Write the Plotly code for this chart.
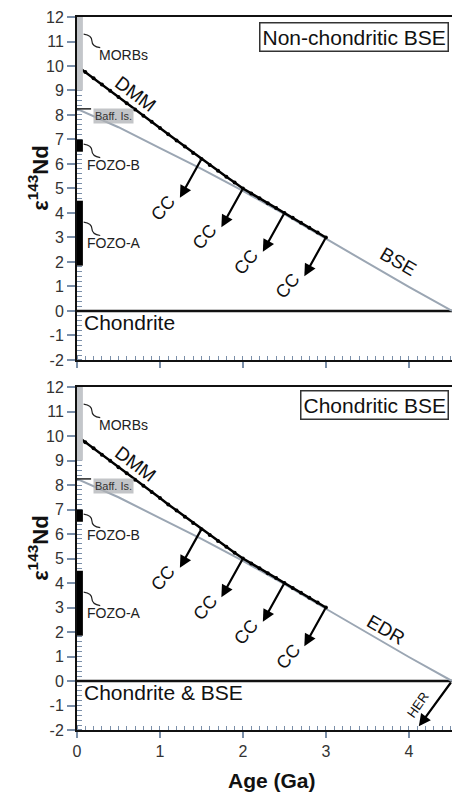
import plotly.graph_objects as go

# ---- data -------------------------------------------------------------
# Depleted MORB mantle evolution (epsilon 143Nd vs age, Ga)
AGE_DMM = [0.0, 0.1, 0.2, 0.3, 0.4, 0.5, 0.6, 0.7, 0.8, 0.9, 1.0,
           1.1, 1.2, 1.3, 1.4, 1.5, 1.6, 1.7, 1.8, 1.9, 2.0,
           2.1, 2.2, 2.3, 2.4, 2.5, 2.6, 2.7, 2.8, 2.9, 3.0]
EPS_DMM = [10.0, 9.75, 9.5, 9.24, 8.99, 8.73, 8.48, 8.22, 7.97, 7.72, 7.47,
           7.21, 6.96, 6.71, 6.45, 6.2, 5.96, 5.72, 5.48, 5.24, 5.0,
           4.8, 4.6, 4.4, 4.2, 4.0, 3.8, 3.6, 3.4, 3.2, 3.0]

# BSE / EDR evolution line
AGE_BSE = [0.0, 0.5, 1.0, 1.5, 2.0, 2.5, 3.0, 3.5, 4.0, 4.52]
EPS_BSE = [8.25, 7.5, 6.65, 5.8, 4.9, 3.95, 2.95, 1.97, 0.98, 0.0]

# continental crust extraction ages (arrows leave the DMM curve here)
CC_AGES = [1.5, 2.0, 2.5, 3.0]

CHONDRITE = 0.0

# present-day reservoir ranges drawn along the age = 0 axis
RES_NAMES = ["MORBs", "FOZO-B", "FOZO-A"]
RES_LOW = [9.0, 6.5, 1.85]
RES_HIGH = [12.0, 7.0, 4.5]
RES_LABEL_EPS = [10.45, 5.96, 2.78]
BAFFIN_EPS = 8.25

PANEL_BOX = ["Non-chondritic BSE", "Chondritic BSE"]
PANEL_LINE_LABEL = ["BSE", "EDR"]
PANEL_BASE_LABEL = ["Chondrite", "Chondrite & BSE"]

X_MAX = 4.52
Y_RANGE = [-2, 12]
Y_TICKS = list(range(-2, 13))
X_TICKS = [0, 1, 2, 3, 4]

# ---- styling ----------------------------------------------------------
FONT = "Liberation Sans, Arial, sans-serif"
TICK_COL = "#7b8fa9"
GREY_LINE = "#9ba6b3"

fig = go.Figure()
annotations = []
shapes = []


def dmm_at(age):
    return EPS_DMM[AGE_DMM.index(age)]


for i in range(2):
    xa = "x" if i == 0 else "x2"
    ya = "y" if i == 0 else "y2"

    # chondrite reference line
    fig.add_trace(go.Scatter(x=[0, X_MAX], y=[CHONDRITE, CHONDRITE], mode="lines",
                             line=dict(color="#111", width=2.5), xaxis=xa, yaxis=ya,
                             hoverinfo="skip"))
    # BSE / EDR line
    fig.add_trace(go.Scatter(x=AGE_BSE, y=EPS_BSE, mode="lines",
                             line=dict(color=GREY_LINE, width=2), xaxis=xa, yaxis=ya,
                             hoverinfo="skip"))
    # DMM curve
    fig.add_trace(go.Scatter(x=AGE_DMM, y=EPS_DMM, mode="lines+markers",
                             line=dict(color="#000", width=2.5),
                             marker=dict(color="#000", size=4), xaxis=xa, yaxis=ya,
                             hoverinfo="skip"))
    # reservoir bars on the present-day axis
    for name, lo, hi in zip(RES_NAMES, RES_LOW, RES_HIGH):
        col = "#c3c6ca" if name == "MORBs" else "#000"
        fig.add_trace(go.Scatter(x=[0.035, 0.035], y=[lo, hi], mode="lines",
                                 line=dict(color=col, width=6), xaxis=xa, yaxis=ya,
                                 hoverinfo="skip"))
    # Baffin Island marker
    fig.add_trace(go.Scatter(x=[0, 0.17], y=[BAFFIN_EPS, BAFFIN_EPS], mode="lines",
                             line=dict(color="#222", width=1.5), xaxis=xa, yaxis=ya,
                             hoverinfo="skip"))

    # crust extraction arrows + labels
    for age in CC_AGES:
        sx, sy = age, dmm_at(age)
        tx, ty = sx - 0.26, sy - 1.58
        annotations.append(dict(x=tx, y=ty, ax=sx, ay=sy, xref=xa, yref=ya,
                                axref=xa, ayref=ya, text="", showarrow=True,
                                arrowhead=2, arrowsize=1.1, arrowwidth=2.2,
                                arrowcolor="#000"))
        annotations.append(dict(x=tx - 0.2, y=ty - 0.42, xref=xa, yref=ya, text="CC",
                                showarrow=False, textangle=-50,
                                font=dict(family=FONT, size=18, color="#111")))

    # curve labels
    annotations.append(dict(x=0.70, y=8.88, xref=xa, yref=ya, text="DMM",
                            showarrow=False, textangle=37,
                            font=dict(family=FONT, size=19, color="#111")))
    annotations.append(dict(x=3.87 if i == 0 else 3.72, y=2.0 if i == 0 else 2.12,
                            xref=xa, yref=ya, text=PANEL_LINE_LABEL[i],
                            showarrow=False, textangle=30,
                            font=dict(family=FONT, size=19, color="#111")))
    annotations.append(dict(x=0.06, y=-0.47, xref=xa, yref=ya, xanchor="left",
                            text=PANEL_BASE_LABEL[i], showarrow=False,
                            font=dict(family=FONT, size=21, color="#111")))

    # reservoir labels with curly leaders
    for name, ly in zip(RES_NAMES, RES_LABEL_EPS):
        lx = 0.24 if name == "MORBs" else 0.1
        annotations.append(dict(x=lx, y=ly, xref=xa, yref=ya, xanchor="left",
                                text=name, showarrow=False,
                                font=dict(family=FONT, size=14, color="#222")))
        x0, y0 = 0.08, ly + 0.85
        x1, y1 = 0.28, ly + 0.3
        xm, ymid = 0.18, (y0 + y1) / 2
        shapes.append(dict(type="path", xref=xa, yref=ya,
                           path=f"M {x0},{y0} Q {x0 + 0.1},{y0 - 0.05} {xm},{ymid} "
                                f"T {x1},{y1}",
                           line=dict(color="#222", width=1.2)))
    annotations.append(dict(x=0.19, y=BAFFIN_EPS - 0.3, xref=xa, yref=ya,
                            xanchor="left", text="Baff. Is.", showarrow=False,
                            bgcolor="rgba(175,178,182,0.75)", borderpad=1,
                            font=dict(family=FONT, size=11, color="#333")))

    # panel title box
    annotations.append(dict(x=0.992, y=0.986 if i == 0 else 0.99,
                            xref=f"{xa} domain", yref=f"{ya} domain",
                            xanchor="right", yanchor="top", text=PANEL_BOX[i],
                            showarrow=False, bordercolor="#333", borderwidth=1.5,
                            borderpad=2, bgcolor="white",
                            font=dict(family=FONT, size=21, color="#111")))

    # y axis title
    annotations.append(dict(x=-0.145, y=0.53, xref="paper", yref=f"{ya} domain",
                            text="<b>ε<sup>143</sup>Nd</b>", showarrow=False,
                            textangle=-90,
                            font=dict(family=FONT, size=22, color="#111")))

# hidden-earth reservoir arrow (chondritic BSE case)
her_sx, her_sy = AGE_BSE[-1], EPS_BSE[-1]
annotations.append(dict(x=her_sx - 0.4, y=her_sy - 1.85, ax=her_sx, ay=her_sy,
                        xref="x2", yref="y2", axref="x2", ayref="y2", text="",
                        showarrow=True, arrowhead=2, arrowsize=1.1, arrowwidth=2.2,
                        arrowcolor="#000"))
annotations.append(dict(x=4.1, y=-0.98, xref="x2", yref="y2", text="HER",
                        showarrow=False, textangle=-55,
                        font=dict(family=FONT, size=13, color="#111")))

# x axis title
annotations.append(dict(x=0.52, y=-0.071, xref="x2 domain", yref="paper",
                        yanchor="middle", text="<b>Age (Ga)</b>", showarrow=False,
                        font=dict(family=FONT, size=21, color="#111")))


def x_axis(anchor, labels):
    return dict(domain=[0, 1], range=[0, X_MAX], anchor=anchor,
                showline=True, linecolor="#111", linewidth=2, mirror=True,
                ticks="outside", ticklen=6, tickwidth=1.5, tickcolor=TICK_COL,
                tickvals=X_TICKS, showticklabels=labels,
                tickfont=dict(family=FONT, size=16, color="#333"),
                minor=dict(ticks="inside", dtick=0.1, ticklen=4, tickwidth=1,
                           tickcolor=TICK_COL),
                layer="below traces",
                showgrid=False, zeroline=False, fixedrange=True)


def y_axis(anchor, domain):
    return dict(domain=domain, range=Y_RANGE, anchor=anchor,
                showline=True, linecolor="#111", linewidth=2,
                ticks="outside", ticklen=8, tickwidth=1.5, tickcolor=TICK_COL,
                tickvals=Y_TICKS, ticktext=[str(v) for v in Y_TICKS],
                tickfont=dict(family=FONT, size=16, color="#333"),
                minor=dict(ticks="inside", dtick=0.2, ticklen=5, tickwidth=1,
                           tickcolor=TICK_COL),
                layer="below traces",
                showgrid=False, zeroline=False, fixedrange=True)


fig.update_layout(
    width=452, height=792,
    margin=dict(l=77, r=0, t=17, b=62),
    paper_bgcolor="white", plot_bgcolor="white",
    showlegend=False,
    xaxis=x_axis("y", False),
    yaxis=y_axis("x", [0.519, 1.0]),
    xaxis2=x_axis("y2", True),
    yaxis2=y_axis("x2", [0.0, 0.481]),
    annotations=annotations,
    shapes=shapes,
)

fig.write_html("out.html")
